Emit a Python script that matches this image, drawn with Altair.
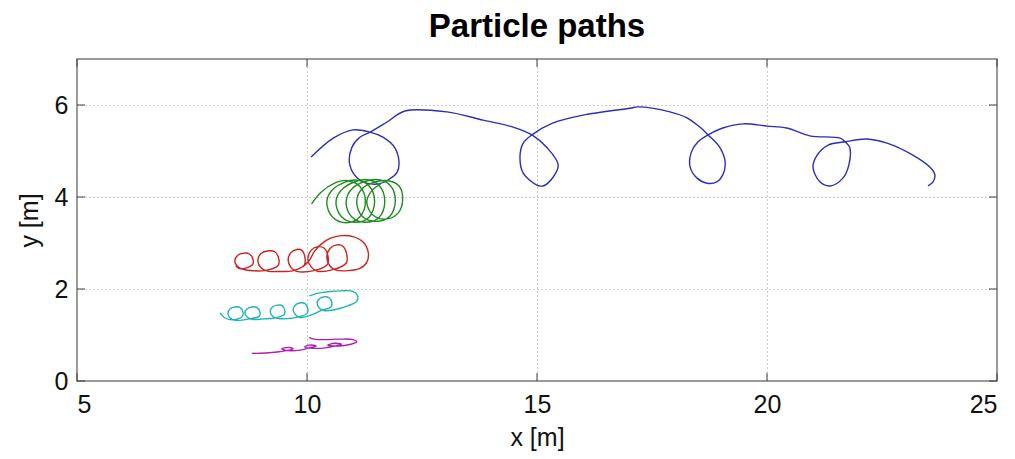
import altair as alt
import pandas as pd

# ---- data ----
blue_x = [10.09,10.57,11.0,11.37,11.65,11.91,12.0,11.96,11.76,11.52,11.15,10.93,10.98,11.15,11.37,11.74,12.13,13.04,13.83,14.48,14.89,15.22,15.46,15.35,15.13,15.0,14.7,14.63,14.7,14.89,15.35,16.0,17.02,17.2,17.89,18.26,18.54,18.72,18.98,19.09,19.04,18.91,18.7,18.48,18.33,18.35,18.5,18.72,19.04,19.48,20.0,20.43,20.93,21.59,21.7,21.8,21.78,21.65,21.37,21.15,21.0,21.09,21.33,21.7,22.17,22.61,23.17,23.54,23.65,23.61,23.5]
blue_y = [4.87,5.28,5.46,5.41,5.30,5.07,4.76,4.54,4.37,4.28,4.37,4.70,5.09,5.30,5.41,5.63,5.87,5.85,5.67,5.52,5.35,5.07,4.70,4.43,4.24,4.26,4.52,4.87,5.17,5.35,5.61,5.78,5.93,5.96,5.85,5.72,5.52,5.35,5.07,4.76,4.48,4.33,4.30,4.41,4.65,4.96,5.20,5.35,5.50,5.59,5.54,5.50,5.33,5.28,5.20,5.07,4.70,4.41,4.24,4.33,4.65,4.91,5.13,5.20,5.26,5.17,4.91,4.65,4.48,4.33,4.24]

green_x = [10.1,10.3,10.6,
           10.85,11.15,11.27,11.15,10.85,10.55,10.43,10.6,
           11.05,11.35,11.47,11.35,11.05,10.75,10.63,10.8,
           11.27,11.57,11.69,11.57,11.27,10.97,10.85,11.0,
           11.5,11.8,11.92,11.8,11.5,11.2,11.08,11.22,
           11.7,12.0,12.08,11.98,11.7,11.42,11.3,11.42,11.6]
green_y = [3.85,4.1,4.3,
           4.36,4.23,3.9,3.57,3.44,3.57,3.9,4.2,
           4.37,4.24,3.9,3.56,3.45,3.57,3.9,4.2,
           4.38,4.25,3.9,3.56,3.45,3.57,3.88,4.2,
           4.38,4.26,3.92,3.58,3.47,3.58,3.9,4.2,
           4.36,4.24,3.95,3.65,3.52,3.62,3.9,4.15,4.28]

red_x = [8.45,8.55,8.81,8.83,8.75,8.63,8.49,8.43,8.49,8.61,
         9.07,9.37,9.39,9.30,9.16,9.0,8.93,9.0,9.14,9.4,
         9.70,9.94,9.96,9.89,9.78,9.65,9.59,9.65,9.76,
         10.15,10.44,10.46,10.37,10.24,10.09,10.02,10.09,10.22,
         10.56,10.85,10.87,10.78,10.65,10.5,10.43,10.5,10.63,
         10.9,11.15,11.3,11.33,11.22,11.0,10.75,10.5,10.3,10.15,10.05,9.9]
red_y = [2.5,2.44,2.52,2.63,2.76,2.78,2.73,2.61,2.49,2.43,
         2.40,2.51,2.64,2.81,2.83,2.77,2.62,2.46,2.39,2.38,
         2.40,2.52,2.65,2.84,2.86,2.79,2.63,2.47,2.39,
         2.40,2.53,2.69,2.89,2.92,2.84,2.66,2.48,2.39,
         2.42,2.56,2.72,2.93,2.96,2.88,2.69,2.5,2.41,
         2.40,2.45,2.58,2.8,3.02,3.14,3.16,3.1,2.97,2.8,2.62,2.48]

cyan_x = [8.11,8.2,
          8.38,8.59,8.61,8.54,8.44,8.33,8.28,8.33,8.43,
          8.75,8.96,8.98,8.91,8.81,8.70,8.65,8.70,8.80,9.05,
          9.30,9.50,9.52,9.46,9.36,9.25,9.2,9.25,9.34,
          9.80,10.0,10.02,9.96,9.86,9.75,9.7,9.75,9.84,10.05,
          10.32,10.52,10.54,10.48,10.38,10.27,10.22,10.27,10.36,
          10.6,10.9,11.08,11.1,11.0,10.75,10.45,10.2,10.05]
cyan_y = [1.48,1.38,
          1.33,1.40,1.49,1.60,1.61,1.57,1.47,1.37,1.32,
          1.35,1.41,1.49,1.60,1.61,1.57,1.48,1.39,1.34,1.35,
          1.37,1.44,1.52,1.64,1.65,1.61,1.51,1.41,1.36,
          1.39,1.47,1.56,1.68,1.70,1.65,1.55,1.44,1.38,1.42,
          1.54,1.61,1.70,1.81,1.83,1.79,1.69,1.58,1.53,
          1.55,1.64,1.73,1.85,1.95,1.96,1.94,1.9,1.85]

magenta_x = [8.8,9.1,9.35,9.55,9.7,9.6,9.45,9.6,9.85,10.05,10.2,10.05,9.95,10.15,10.4,10.6,10.75,10.6,10.45,10.7,10.95,11.08,11.0,10.7,10.4,10.15,10.05]
magenta_y = [0.60,0.61,0.63,0.66,0.70,0.73,0.70,0.66,0.67,0.72,0.76,0.78,0.74,0.71,0.72,0.76,0.80,0.82,0.78,0.76,0.80,0.85,0.90,0.91,0.90,0.91,0.95]

series_names = ["blue", "green", "red", "cyan", "magenta"]
series_colors = ["#2b2fb5", "#1f8a1f", "#cc2222", "#22b3b3", "#b020b0"]

x_ticks = [5, 10, 15, 20, 25]
y_ticks = [0, 2, 4, 6]

rows = []
for name, xs, ys in [("blue", blue_x, blue_y), ("green", green_x, green_y),
                     ("red", red_x, red_y), ("cyan", cyan_x, cyan_y),
                     ("magenta", magenta_x, magenta_y)]:
    for i, (a, b) in enumerate(zip(xs, ys)):
        rows.append({"series": name, "i": i, "x": a, "y": b})
df = pd.DataFrame(rows)

W, H = 920, 322
xscale = alt.Scale(domain=[5, 25], nice=False, zero=False)
yscale = alt.Scale(domain=[0, 7], nice=False, zero=False)

lines = alt.Chart(df).mark_line(strokeWidth=1.4, interpolate="catmull-rom").encode(
    x=alt.X("x:Q", scale=xscale, title="x [m]",
            axis=alt.Axis(values=x_ticks, format="d")),
    y=alt.Y("y:Q", scale=yscale, title="y [m]",
            axis=alt.Axis(values=y_ticks, format="d")),
    color=alt.Color("series:N", scale=alt.Scale(domain=series_names, range=series_colors), legend=None),
    detail="series:N",
    order=alt.Order("i:Q"),
)

tx = pd.DataFrame({"t": x_ticks})
ty = pd.DataFrame({"t": y_ticks})
tick_color = "#404040"
xt_bottom = alt.Chart(tx).mark_rule(color=tick_color, strokeWidth=1).encode(
    x=alt.X("t:Q", scale=xscale), y=alt.value(H), y2=alt.value(H - 8))
xt_top = alt.Chart(tx).mark_rule(color=tick_color, strokeWidth=1).encode(
    x=alt.X("t:Q", scale=xscale), y=alt.value(0), y2=alt.value(8))
yt_left = alt.Chart(ty).mark_rule(color=tick_color, strokeWidth=1).encode(
    y=alt.Y("t:Q", scale=yscale), x=alt.value(0), x2=alt.value(8))
yt_right = alt.Chart(ty).mark_rule(color=tick_color, strokeWidth=1).encode(
    y=alt.Y("t:Q", scale=yscale), x=alt.value(W), x2=alt.value(W - 8))

chart = alt.layer(lines, xt_bottom, xt_top, yt_left, yt_right).properties(
    width=W, height=H,
    title=alt.TitleParams("Particle paths", fontSize=33, fontWeight="bold",
                          font="Liberation Sans", color="#000", offset=15, anchor="middle"),
    autosize=alt.AutoSizeParams(type="none"),
    padding={"left": 77, "top": 59, "right": 18, "bottom": 78},
    background="white",
).configure_view(stroke="#7a7a7a", strokeWidth=1.5).configure_axis(
    grid=True, gridDash=[1, 3], gridColor="#9a9a9a", gridWidth=1,
    domain=False, ticks=False,
    labelFont="Liberation Sans", labelFontSize=25, labelColor="#111",
    titleFont="Liberation Sans", titleFontSize=25, titleFontWeight="normal", titleColor="#111",
).configure_axisX(labelPadding=11, titlePadding=8).configure_axisY(labelPadding=9, titlePadding=12)

chart.save("out.html", embed_options={"renderer": "svg", "actions": False})
